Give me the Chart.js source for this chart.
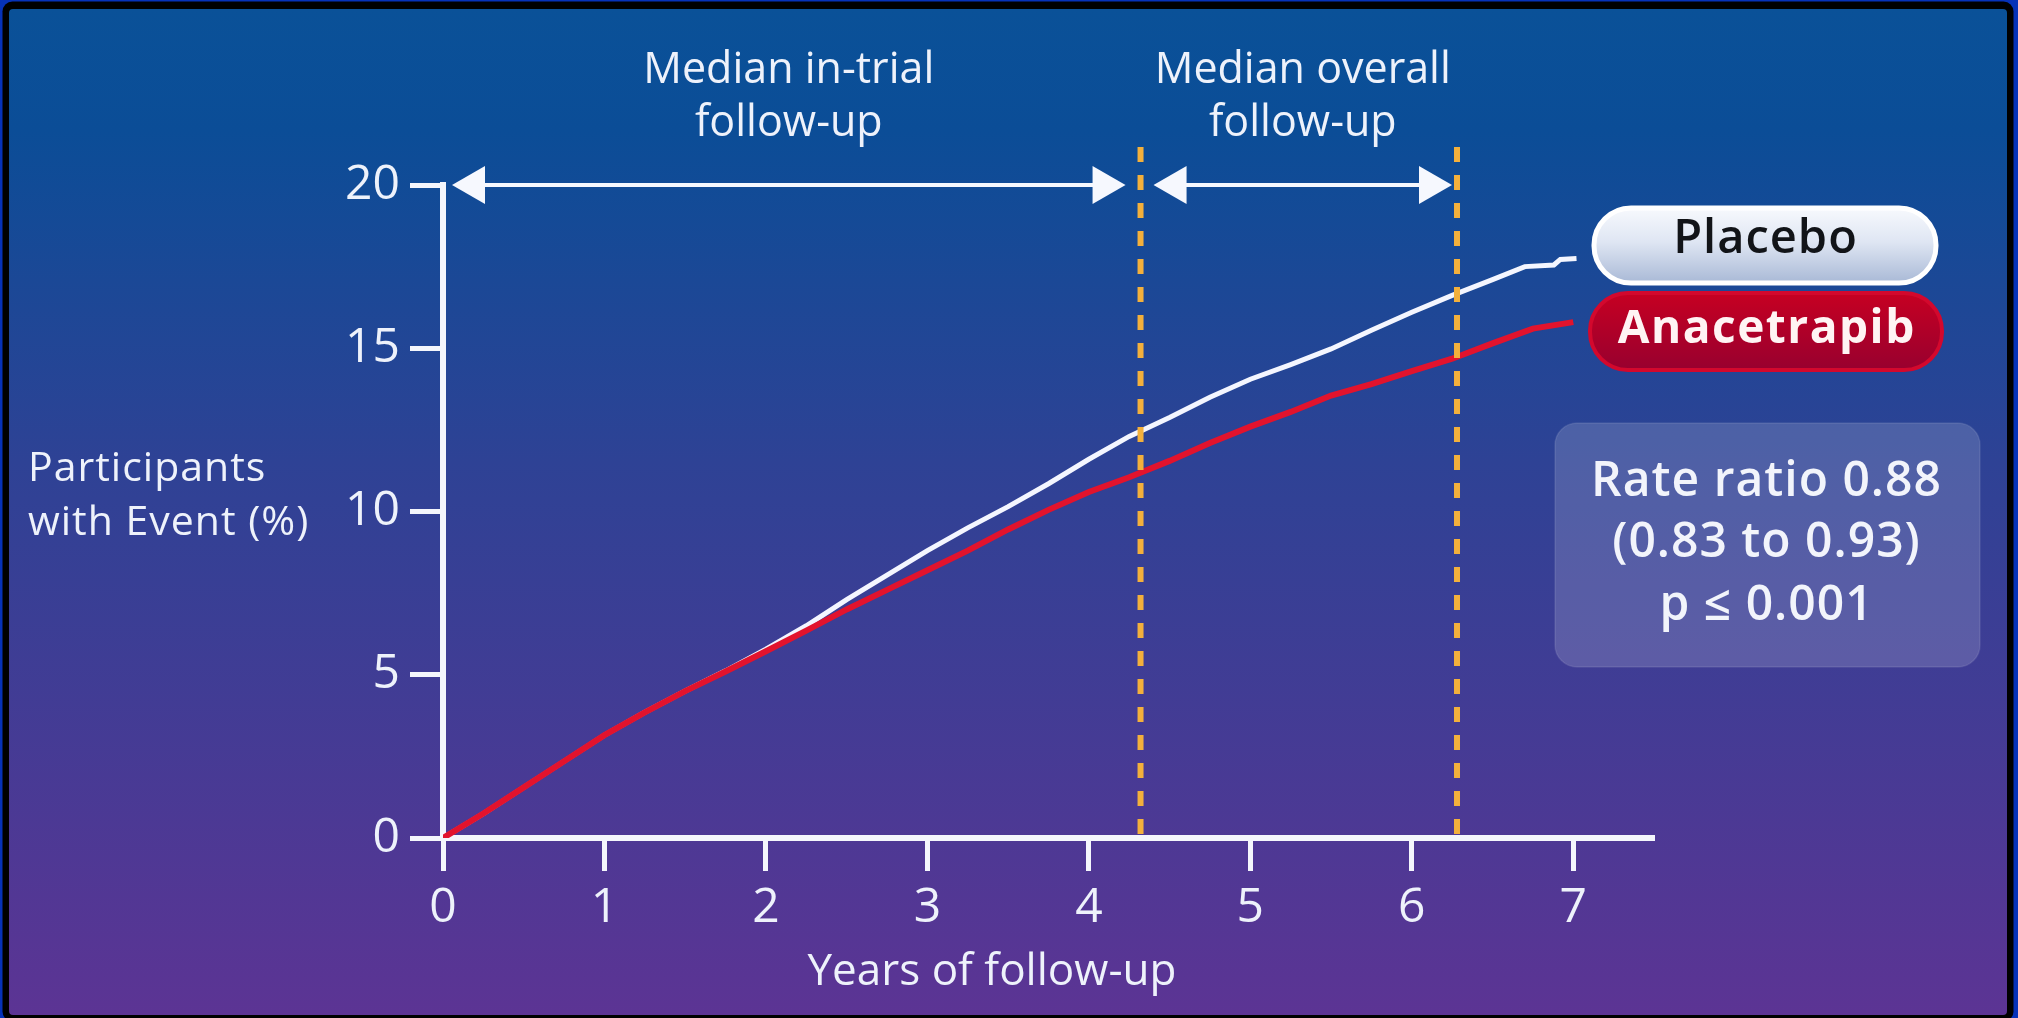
<!DOCTYPE html>
<html>
<head>
<meta charset="utf-8">
<title>Cumulative incidence: Anacetrapib vs Placebo</title>
<style>
  html, body { margin: 0; padding: 0; background: #0632b8; overflow: hidden; }
  #wrap { width: 2018px; height: 1018px; }
  canvas { display: block; }
</style>
<script src="https://cdn.jsdelivr.net/npm/chart.js@4.4.1/dist/chart.umd.min.js"></script>
</head>
<body>
<div id="wrap"><canvas id="km" width="2018" height="1018"></canvas></div>
<script>
// ---- Data -------------------------------------------------------------
const placeboYears = [0, 0.25, 0.5, 0.75, 1, 1.25, 1.5, 1.75, 2, 2.25, 2.5, 2.75, 3, 3.25, 3.5, 3.75,
                      4, 4.25, 4.5, 4.75, 5, 5.25, 5.5, 5.75, 6, 6.25, 6.5, 6.7, 6.88, 6.92, 7.02];
const placeboPct   = [0, 0.75, 1.55, 2.35, 3.15, 3.85, 4.5, 5.12, 5.78, 6.5, 7.3, 8.05, 8.8, 9.5, 10.15, 10.85,
                      11.6, 12.3, 12.88, 13.5, 14.05, 14.5, 14.98, 15.55, 16.1, 16.62, 17.1, 17.5, 17.55, 17.72, 17.75];

const anacetrapibYears = [0, 0.25, 0.5, 0.75, 1, 1.25, 1.5, 1.75, 2, 2.25, 2.5, 2.75, 3, 3.25, 3.5, 3.75,
                          4, 4.25, 4.5, 4.75, 5, 5.25, 5.5, 5.75, 6, 6.25, 6.5, 6.75, 7.0];
const anacetrapibPct   = [0, 0.75, 1.55, 2.35, 3.15, 3.85, 4.5, 5.1, 5.72, 6.35, 7.0, 7.6, 8.2, 8.8, 9.45, 10.05,
                          10.6, 11.05, 11.55, 12.1, 12.6, 13.05, 13.55, 13.9, 14.3, 14.68, 15.15, 15.6, 15.8];

const xTickValues = [0, 1, 2, 3, 4, 5, 6, 7];
const yTickValues = [0, 5, 10, 15, 20];

const medianInTrial = 4.32;   // years
const medianOverall = 6.28;   // years

const seriesNames = ['Placebo', 'Anacetrapib'];
const xTitle = 'Years of follow-up';
const yTitleLines = ['Participants', 'with Event (%)'];
const inTrialLabel = ['Median in-trial', 'follow-up'];
const overallLabel = ['Median overall', 'follow-up'];
const statLines = ['Rate ratio 0.88', '(0.83 to 0.93)', 'p \u2264 0.001'];

// ---- Styling ------------------------------------------------------------
const FONT = "'Open Sans', 'Noto Sans', sans-serif";
const INK = '#eef2fb';
const ORANGE = '#f3b03c';
const RED = '#e2132d';

Chart.defaults.font.family = FONT;

const toPoints = (xs, ys) => xs.map((x, i) => ({ x: x, y: ys[i] }));

function rr(ctx, x, y, w, h, r) {
  ctx.beginPath();
  ctx.moveTo(x + r, y);
  ctx.lineTo(x + w - r, y);
  ctx.arcTo(x + w, y, x + w, y + r, r);
  ctx.lineTo(x + w, y + h - r);
  ctx.arcTo(x + w, y + h, x + w - r, y + h, r);
  ctx.lineTo(x + r, y + h);
  ctx.arcTo(x, y + h, x, y + h - r, r);
  ctx.lineTo(x, y + r);
  ctx.arcTo(x, y, x + r, y, r);
  ctx.closePath();
}

function arrowHead(ctx, tipX, y, dir) {
  const len = 33, half = 19;
  ctx.beginPath();
  ctx.moveTo(tipX, y);
  ctx.lineTo(tipX - dir * len, y - half);
  ctx.lineTo(tipX - dir * len, y + half);
  ctx.closePath();
  ctx.fill();
}

function doubleArrow(ctx, x1, x2, y) {
  ctx.fillStyle = '#f6f8fe';
  ctx.strokeStyle = '#f6f8fe';
  ctx.lineWidth = 4;
  ctx.beginPath();
  ctx.moveTo(x1 + 20, y);
  ctx.lineTo(x2 - 20, y);
  ctx.stroke();
  arrowHead(ctx, x1, y, -1);
  arrowHead(ctx, x2, y, 1);
}

function spacedText(ctx, text, x, y, spacing) {
  ctx.letterSpacing = spacing + 'px';
  // keep centred text centred despite trailing spacing
  const shift = ctx.textAlign === 'center' ? spacing / 2 : 0;
  ctx.fillText(text, x + shift, y);
  ctx.letterSpacing = '0px';
}

const decor = {
  id: 'decor',
  beforeDraw(chart) {
    const { ctx, width, height } = chart;
    ctx.save();
    ctx.fillStyle = '#0632b8';
    ctx.fillRect(0, 0, width, height);
    ctx.fillStyle = '#000';
    rr(ctx, 2.5, 1.5, 2011, 1020, 10);
    ctx.fill();
    const g = ctx.createLinearGradient(0, 9, 0, 1015);
    g.addColorStop(0, '#0a5198');
    g.addColorStop(0.12, '#0b4d97');
    g.addColorStop(0.45, '#2e4295');
    g.addColorStop(1, '#5c3494');
    ctx.fillStyle = g;
    rr(ctx, 9, 9, 1998, 1006, 4);
    ctx.fill();
    ctx.restore();
  },
  afterDatasetsDraw(chart) {
    const { ctx, scales: { x, y }, chartArea } = chart;
    ctx.save();
    // median follow-up markers
    ctx.strokeStyle = ORANGE;
    ctx.lineWidth = 6;
    ctx.setLineDash([15, 13]);
    [medianInTrial, medianOverall].forEach(v => {
      const px = x.getPixelForValue(v);
      ctx.beginPath();
      ctx.moveTo(px, chartArea.top - 38);
      ctx.lineTo(px, chartArea.bottom - 2);
      ctx.stroke();
    });
    ctx.setLineDash([]);

    // span arrows at the top of the axis
    const ay = y.getPixelForValue(20);
    const x0 = x.getPixelForValue(0) + 9;
    const m1 = x.getPixelForValue(medianInTrial);
    const m2 = x.getPixelForValue(medianOverall);
    doubleArrow(ctx, x0, m1 - 15, ay);
    doubleArrow(ctx, m1 + 13, m2 - 5, ay);

    // span captions
    ctx.fillStyle = INK;
    ctx.textAlign = 'center';
    ctx.textBaseline = 'alphabetic';
    ctx.font = `400 43px ${FONT}`;
    const c1 = (x0 + m1 - 15) / 2, c2 = (m1 + 13 + m2 - 5) / 2;
    ctx.fillText(inTrialLabel[0], c1, ay - 102);
    ctx.fillText(inTrialLabel[1], c1, ay - 49);
    ctx.fillText(overallLabel[0], c2, ay - 102);
    ctx.fillText(overallLabel[1], c2, ay - 49);
    ctx.restore();
  },
  afterDraw(chart) {
    const { ctx, scales: { x } } = chart;
    ctx.save();
    ctx.textBaseline = 'alphabetic';

    // axis titles
    ctx.fillStyle = INK;
    ctx.font = `400 44px ${FONT}`;
    ctx.textAlign = 'center';
    ctx.fillText(xTitle, x.getPixelForValue(3.4), 985);
    ctx.textAlign = 'left';
    ctx.font = `400 41px ${FONT}`;
    spacedText(ctx, yTitleLines[0], 28, 481, 1);
    spacedText(ctx, yTitleLines[1], 28, 535, 1);

    // series labels
    // Placebo pill
    let gp = ctx.createLinearGradient(0, 208, 0, 283);
    gp.addColorStop(0, '#f7f9fd');
    gp.addColorStop(0.45, '#dfe6f3');
    gp.addColorStop(1, '#a9b9d6');
    rr(ctx, 1594, 208, 342, 75, 37);
    ctx.fillStyle = gp;
    ctx.fill();
    ctx.lineWidth = 5;
    ctx.strokeStyle = '#ffffff';
    ctx.stroke();
    ctx.fillStyle = '#121418';
    ctx.textAlign = 'center';
    ctx.font = `600 47px ${FONT}`;
    spacedText(ctx, seriesNames[0], 1765, 253, 1);

    // Anacetrapib pill
    let ga = ctx.createLinearGradient(0, 293, 0, 370);
    ga.addColorStop(0, '#c60022');
    ga.addColorStop(1, '#98002f');
    rr(ctx, 1590, 293, 352, 77, 38);
    ctx.fillStyle = ga;
    ctx.fill();
    ctx.lineWidth = 4;
    ctx.strokeStyle = '#d3082d';
    ctx.stroke();
    ctx.fillStyle = '#fff4f4';
    ctx.font = `700 46px ${FONT}`;
    spacedText(ctx, seriesNames[1], 1766, 343, 1.5);

    // statistics box
    rr(ctx, 1555, 423, 425, 244, 22);
    ctx.fillStyle = 'rgba(255,255,255,0.16)';
    ctx.fill();
    ctx.lineWidth = 1.5;
    ctx.strokeStyle = 'rgba(255,255,255,0.10)';
    ctx.stroke();
    ctx.fillStyle = '#f2f4fb';
    ctx.font = `600 48px ${FONT}`;
    spacedText(ctx, statLines[0], 1766, 496, 1);
    spacedText(ctx, statLines[1], 1766, 557, 1);
    spacedText(ctx, statLines[2], 1766, 620, 1);
    ctx.restore();
  }
};

const axisGrid = {
  display: true,
  drawOnChartArea: false,
  drawTicks: true,
  tickLength: 33,
  tickWidth: 5,
  tickColor: '#f4f6fc'
};
const axisBorder = { display: true, color: '#f4f6fc', width: 6 };

new Chart(document.getElementById('km'), {
  type: 'line',
  data: {
    datasets: [
      {
        label: seriesNames[1],
        data: toPoints(anacetrapibYears, anacetrapibPct),
        borderColor: RED,
        borderWidth: 6,
        pointRadius: 0,
        tension: 0,
        fill: false,
        order: 0
      },
      {
        label: seriesNames[0],
        data: toPoints(placeboYears, placeboPct),
        borderColor: '#f4f6ff',
        borderWidth: 5,
        pointRadius: 0,
        tension: 0,
        fill: false,
        order: 1
      }
    ]
  },
  options: {
    responsive: false,
    animation: false,
    devicePixelRatio: 1,
    layout: { padding: { left: 0, top: 185, right: 364, bottom: 0 } },
    plugins: {
      legend: { display: false },
      tooltip: { enabled: false },
      title: { display: false }
    },
    scales: {
      x: {
        type: 'linear',
        min: 0,
        max: 7.5,
        afterBuildTicks: s => { s.ticks = xTickValues.map(v => ({ value: v })); },
        afterFit: s => { s.height = 180; },
        grid: axisGrid,
        border: axisBorder,
        ticks: { color: INK, font: { size: 48, family: FONT }, padding: 9, maxRotation: 0 }
      },
      y: {
        type: 'linear',
        min: 0,
        max: 20,
        afterBuildTicks: s => { s.ticks = yTickValues.map(v => ({ value: v })); },
        afterFit: s => { s.width = 443; },
        grid: axisGrid,
        border: axisBorder,
        ticks: { color: INK, font: { size: 48, family: FONT }, padding: 10 }
      }
    }
  },
  plugins: [decor]
});
</script>
</body>
</html>
